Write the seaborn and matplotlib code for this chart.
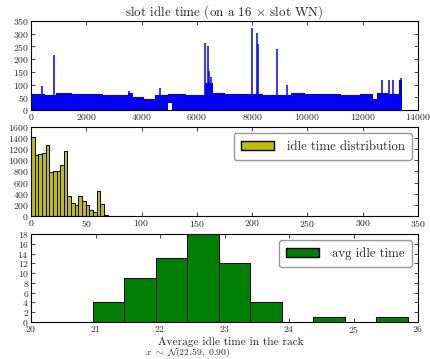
import matplotlib
matplotlib.use('Agg')
import matplotlib.pyplot as plt
from matplotlib.patches import Patch
import numpy as np
import pandas as pd
import seaborn as sns

# --- slot idle time trace ---
# dense band: segment edges, upper and lower envelope of each segment
band_x = [0, 500, 900, 1500, 2200, 2600, 3000, 3500, 3700, 4100, 4500,
          4950, 5100, 5600, 6280, 6600, 7000, 7500, 8400, 9400, 9900,
          10500, 11200, 11900, 12380, 12520, 12900, 13330, 13430]
band_top = [64, 60, 65, 62, 64, 58, 60, 66, 50, 42, 60, 62, 63, 60, 105,
            66, 62, 64, 60, 66, 62, 64, 60, 64, 42, 66, 62, 116]
band_bot = [0, 0, 0, 0, 0, 0, 0, 0, 0, 0, 0, 28, 0, 0, 0, 0, 0, 0, 0, 0,
            0, 0, 0, 0, 0, 0, 0, 0]
# isolated spikes
spike_x = [400, 840, 3550, 4670, 6300, 6385, 6456, 6516, 7990, 8170, 8205,
           8905, 9255, 12690, 12960, 13080, 13400]
spike_h = [95, 218, 74, 85, 262, 250, 155, 130, 324, 302, 260, 239, 98,
           118, 118, 118, 125]

# --- idle time distribution: 100 bins over 0..330 ---
idle_edges = np.linspace(0, 330, 101)
idle_main = [1425, 1090, 1120, 1130, 1275, 795, 815, 815, 915, 1160,
             355, 240, 205, 355, 275, 190, 100, 75, 455, 210]
tail_bins = [20, 21, 22, 23, 24, 25, 26, 27, 28, 30, 31, 32, 33, 35, 36, 37, 38, 70]
tail_counts = [10, 8, 6, 5, 4, 4, 3, 3, 3, 3, 3, 2, 2, 2, 2, 2, 2, 2]

# --- average idle time per rack ---
avg_edges = np.linspace(20.96, 25.84, 11)
avg_counts = [4, 9, 13, 18, 12, 4, 0, 1, 0, 1]


def main():
    sns.set_style('ticks', {'xtick.direction': 'in', 'ytick.direction': 'in'})
    plt.rcParams['font.family'] = ['cmr10']
    plt.rcParams['mathtext.fontset'] = 'cm'
    plt.rcParams['axes.formatter.use_mathtext'] = True
    plt.rcParams['xtick.top'] = True
    plt.rcParams['ytick.right'] = True
    plt.rcParams['xtick.major.size'] = 3
    plt.rcParams['ytick.major.size'] = 3
    plt.rcParams['axes.edgecolor'] = 'black'
    plt.rcParams['axes.linewidth'] = 0.8

    fig = plt.figure(figsize=(4.3, 3.59), dpi=100)
    ax1 = fig.add_axes([0.0721, 0.6936, 0.900, 0.248])
    ax2 = fig.add_axes([0.0721, 0.3983, 0.900, 0.248])
    ax3 = fig.add_axes([0.0721, 0.1031, 0.900, 0.245])

    # top: time trace
    ax1.fill_between(band_x, band_bot + [band_bot[-1]], band_top + [band_top[-1]],
                     step='post', color='blue', linewidth=0)
    ax1.vlines(spike_x, 0, spike_h, color='blue', linewidth=1.1)
    ax1.set_xlim(0, 14000)
    ax1.set_ylim(0, 350)
    ax1.set_xticks(np.arange(0, 14001, 2000))
    ax1.set_yticks(np.arange(0, 351, 50))
    ax1.set_title(r'slot idle time (on a 16 $\times$ slot WN)', fontsize=9.4, pad=3)

    # middle: idle time distribution
    counts = np.zeros(100)
    counts[:len(idle_main)] = idle_main
    counts[tail_bins] = tail_counts
    centers = (idle_edges[:-1] + idle_edges[1:]) / 2
    df_idle = pd.DataFrame({'idle': centers, 'n': counts})
    sns.histplot(data=df_idle, x='idle', weights='n', bins=idle_edges.tolist(),
                 ax=ax2, color=(0.75, 0.75, 0), edgecolor='black',
                 linewidth=0.7, alpha=1)
    ax2.set_xlim(0, 350)
    ax2.set_ylim(0, 1600)
    ax2.set_xticks(np.arange(0, 351, 50))
    ax2.set_yticks(np.arange(0, 1601, 200))
    ax2.set_xlabel('')
    ax2.set_ylabel('')
    ax2.legend(handles=[Patch(facecolor=(0.75, 0.75, 0), edgecolor='black',
                              label='idle time distribution')],
               loc='upper right', fontsize=9.2, fancybox=True, framealpha=1,
               edgecolor='0.6', borderaxespad=0.5, handlelength=2.6,
               borderpad=0.55, handletextpad=1.0)

    # bottom: average idle time in rack
    acenters = (avg_edges[:-1] + avg_edges[1:]) / 2
    df_avg = pd.DataFrame({'avg': acenters, 'n': avg_counts})
    sns.histplot(data=df_avg, x='avg', weights='n', bins=avg_edges.tolist(),
                 ax=ax3, color=(0, 0.5, 0), edgecolor='black',
                 linewidth=0.7, alpha=1)
    ax3.set_xlim(20, 26)
    ax3.set_ylim(0, 18)
    ax3.set_yticks(np.arange(0, 19, 2))
    ax3.set_xlabel('')
    ax3.set_ylabel('')
    ax3.legend(handles=[Patch(facecolor=(0, 0.5, 0), edgecolor='black',
                              label='avg idle time')],
               loc='upper right', fontsize=9.2, fancybox=True, framealpha=1,
               edgecolor='0.6', borderaxespad=0.5, handlelength=2.6,
               borderpad=0.55, handletextpad=1.0)

    for ax in (ax1, ax2, ax3):
        ax.tick_params(labelsize=7, pad=1.5, width=0.6)

    fig.text(230.5 / 430, 1 - 342 / 359, 'Average idle time in the rack',
             ha='center', va='center', fontsize=8.2)
    fig.text(188 / 430, 1 - 352.5 / 359,
             r'$x\ \sim\ \mathcal{N}(22.59,\ 0.90)$',
             ha='center', va='center', fontsize=7)

    fig.savefig('out.png', dpi=100)
    plt.close(fig)


if __name__ == '__main__':
    main()
